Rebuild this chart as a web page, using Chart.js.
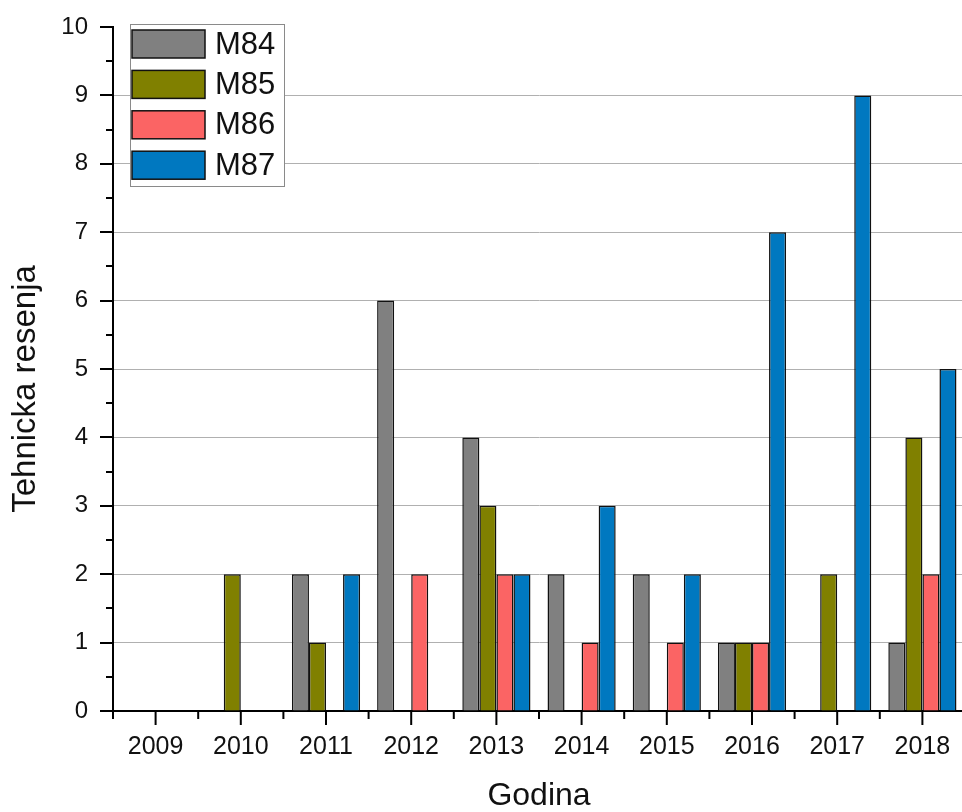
<!DOCTYPE html>
<html>
<head>
<meta charset="utf-8">
<script src="https://cdn.jsdelivr.net/npm/chart.js@4"></script>
<style>
  html, body { margin: 0; padding: 0; background: #fff; overflow: hidden; }
  canvas { display: block; }
</style>
</head>
<body>
<canvas id="chart" width="965" height="812"></canvas>
<script>
// values
const years = ['2009', '2010', '2011', '2012', '2013', '2014', '2015', '2016', '2017', '2018'];
const m84 = [0, 0, 2, 6, 4, 2, 2, 1, 0, 1];
const m85 = [0, 2, 1, 0, 3, 0, 0, 1, 2, 4];
const m86 = [0, 0, 0, 2, 2, 1, 1, 1, 0, 2];
const m87 = [0, 0, 2, 0, 2, 3, 2, 7, 9, 5];
const seriesNames = ['M84', 'M85', 'M86', 'M87'];
const seriesColors = ['#808080', '#808000', '#fb6464', '#0078c0'];
const yTitle = 'Tehnicka resenja';
const xTitle = 'Godina';

const FONT = '"Liberation Sans", Arial, sans-serif';
const CLEAR = 'rgba(0,0,0,0)';

// origin-style ticks: long at majors, short at minors, pointing out
const tickMarks = {
    id: 'tickMarks',
    afterDraw(chart) {
        const ctx = chart.ctx;
        const x = chart.scales.x, y = chart.scales.y;
        const area = chart.chartArea;
        ctx.save();
        ctx.strokeStyle = '#000';
        ctx.lineWidth = 2;
        ctx.beginPath();
        for (let v = 0; v <= 10; v += 0.5) {
            const py = Math.round(y.getPixelForValue(v));
            const len = Number.isInteger(v) ? 13 : 7;
            ctx.moveTo(area.left, py);
            ctx.lineTo(area.left - len, py);
        }
        const half = (x.getPixelForValue(1) - x.getPixelForValue(0)) / 2;
        for (let i = 0; i < years.length; i++) {
            const px = x.getPixelForValue(i);
            ctx.moveTo(px, area.bottom);
            ctx.lineTo(px, area.bottom + 14);
            ctx.moveTo(px - half, area.bottom);
            ctx.lineTo(px - half, area.bottom + 8);
        }
        ctx.stroke();

        // y title sits a little below the plot's middle in the original
        ctx.translate(26, 389);
        ctx.rotate(-Math.PI / 2);
        ctx.font = '33px ' + FONT;
        ctx.fillStyle = '#111';
        ctx.textAlign = 'center';
        ctx.textBaseline = 'middle';
        ctx.fillText(yTitle, 0, 0);
        ctx.restore();
    }
};

// legend box inside the plot, top left
const boxLegend = {
    id: 'boxLegend',
    afterDraw(chart) {
        const ctx = chart.ctx;
        const bx = 130, by = 24, bw = 154, bh = 162;
        ctx.save();
        ctx.fillStyle = '#fff';
        ctx.fillRect(bx, by, bw, bh);
        ctx.strokeStyle = '#8a8a8a';
        ctx.lineWidth = 1;
        ctx.strokeRect(bx + 0.5, by + 0.5, bw, bh);
        ctx.font = '31px ' + FONT;
        ctx.textBaseline = 'middle';
        chart.data.datasets.forEach((ds, i) => {
            const ry = 30 + i * 40.4;
            ctx.fillStyle = ds.backgroundColor;
            ctx.fillRect(132, ry, 73, 28);
            ctx.strokeStyle = '#111';
            ctx.lineWidth = 1.5;
            ctx.strokeRect(132, ry, 73, 28);
            ctx.fillStyle = '#111';
            ctx.fillText(ds.label, 215, ry + 15);
        });
        ctx.restore();
    }
};

const allSeries = [m84, m85, m86, m87];

new Chart(document.getElementById('chart'), {
    type: 'bar',
    data: {
        labels: years,
        datasets: allSeries.map((vals, i) => ({
            label: seriesNames[i],
            data: vals,
            backgroundColor: seriesColors[i],
            borderColor: '#111',
            borderWidth: 1.5,
            categoryPercentage: 0.8,
            barPercentage: 1.0
        }))
    },
    options: {
        responsive: false,
        animation: false,
        layout: { padding: { top: 27, left: 0, right: 0, bottom: 0 } },
        plugins: {
            legend: { display: false },
            tooltip: { enabled: false }
        },
        scales: {
            x: {
                grid: { display: true, color: CLEAR, tickColor: CLEAR, drawTicks: true, tickLength: 17 },
                border: { color: '#000', width: 2 },
                ticks: {
                    color: '#111',
                    font: { family: FONT, size: 25 },
                    padding: 4,
                    maxRotation: 0
                },
                title: {
                    display: true,
                    text: xTitle,
                    color: '#111',
                    font: { family: FONT, size: 32, lineHeight: 1 },
                    padding: 0
                },
                afterFit(scale) { scale.height = 101; }
            },
            y: {
                min: 0,
                max: 10,
                ticks: {
                    stepSize: 1,
                    color: '#111',
                    font: { family: FONT, size: 24 },
                    padding: 4
                },
                grid: {
                    drawTicks: true,
                    tickLength: 21,
                    tickColor: CLEAR,
                    color: ctx => (ctx.tick && ctx.tick.value > 0 && ctx.tick.value < 10) ? '#b0b0b0' : CLEAR,
                    lineWidth: 1
                },
                border: { color: '#000', width: 2 },
                title: { display: false },
                afterFit(scale) { scale.width = 113; }
            }
        }
    },
    plugins: [tickMarks, boxLegend]
});
</script>
</body>
</html>
